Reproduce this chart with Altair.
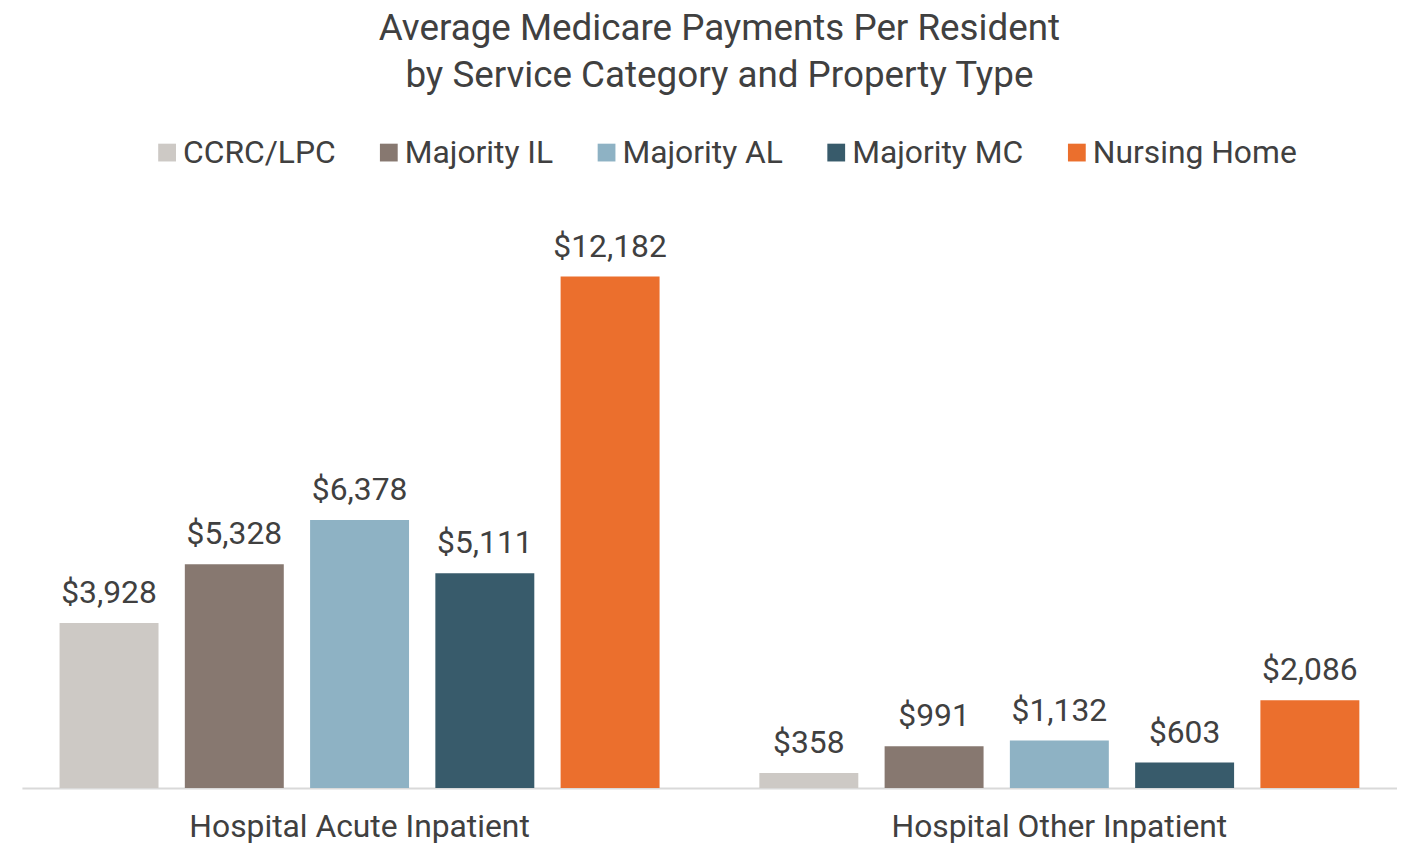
import altair as alt
import pandas as pd

categories = ["Hospital Acute Inpatient", "Hospital Other Inpatient"]
property_types = ["CCRC/LPC", "Majority IL", "Majority AL", "Majority MC", "Nursing Home"]
acute_values = [3928, 5328, 6378, 5111, 12182]
other_values = [358, 991, 1132, 603, 2086]
colors = ["#CDC9C5", "#877870", "#8EB2C4", "#385B6B", "#EB6F2D"]

rows = []
for cat, vals in zip(categories, [acute_values, other_values]):
    for pt, v in zip(property_types, vals):
        rows.append({"category": cat, "type": pt, "value": v, "label": f"${v:,}"})
df = pd.DataFrame(rows)

FONT = "Roboto"
TXT = "#404040"

base = alt.Chart(df).encode(
    x=alt.X(
        "category:N",
        sort=categories,
        scale=alt.Scale(paddingInner=0.105, paddingOuter=0.035),
        axis=alt.Axis(
            title=None, labelAngle=0, ticks=False, domain=True,
            domainColor="#D9D9D9", domainWidth=2, labelLimit=0,
            labelFontSize=32, labelColor=TXT, labelFont=FONT, labelPadding=24,
        ),
    ),
    xOffset=alt.XOffset(
        "type:N", sort=property_types,
        scale=alt.Scale(paddingInner=0.21, paddingOuter=0.105),
    ),
    y=alt.Y("value:Q", scale=alt.Scale(domain=[0, 13450], nice=False), axis=None),
)

bars = base.mark_bar().encode(
    color=alt.Color(
        "type:N", sort=property_types,
        scale=alt.Scale(domain=property_types, range=colors),
        legend=alt.Legend(
            title=None, orient="none", direction="horizontal",
            legendX=130, legendY=-87, labelLimit=0,
            symbolType="square", symbolSize=320, symbolStrokeWidth=0,
            labelFontSize=32, labelFont=FONT, labelColor=TXT,
            labelOffset=0, columnPadding=37,
        ),
    )
)

labels = base.mark_text(
    baseline="alphabetic", dy=-20, fontSize=32, font=FONT, color=TXT
).encode(text="label:N")

chart = alt.layer(bars, labels).properties(
    width=1383,
    height=568,
    padding={"left": 14, "top": 0, "right": 0, "bottom": 0},
    title=alt.Title(
        ["Average Medicare Payments Per Resident", "by Service Category and Property Type"],
        fontSize=37, font=FONT, fontWeight="normal", color=TXT,
        lineHeight=47, anchor="middle", offset=42, dx=10,
    ),
).configure_view(stroke=None)

chart.save("out.html", embed_options={"renderer": "svg", "actions": False})
